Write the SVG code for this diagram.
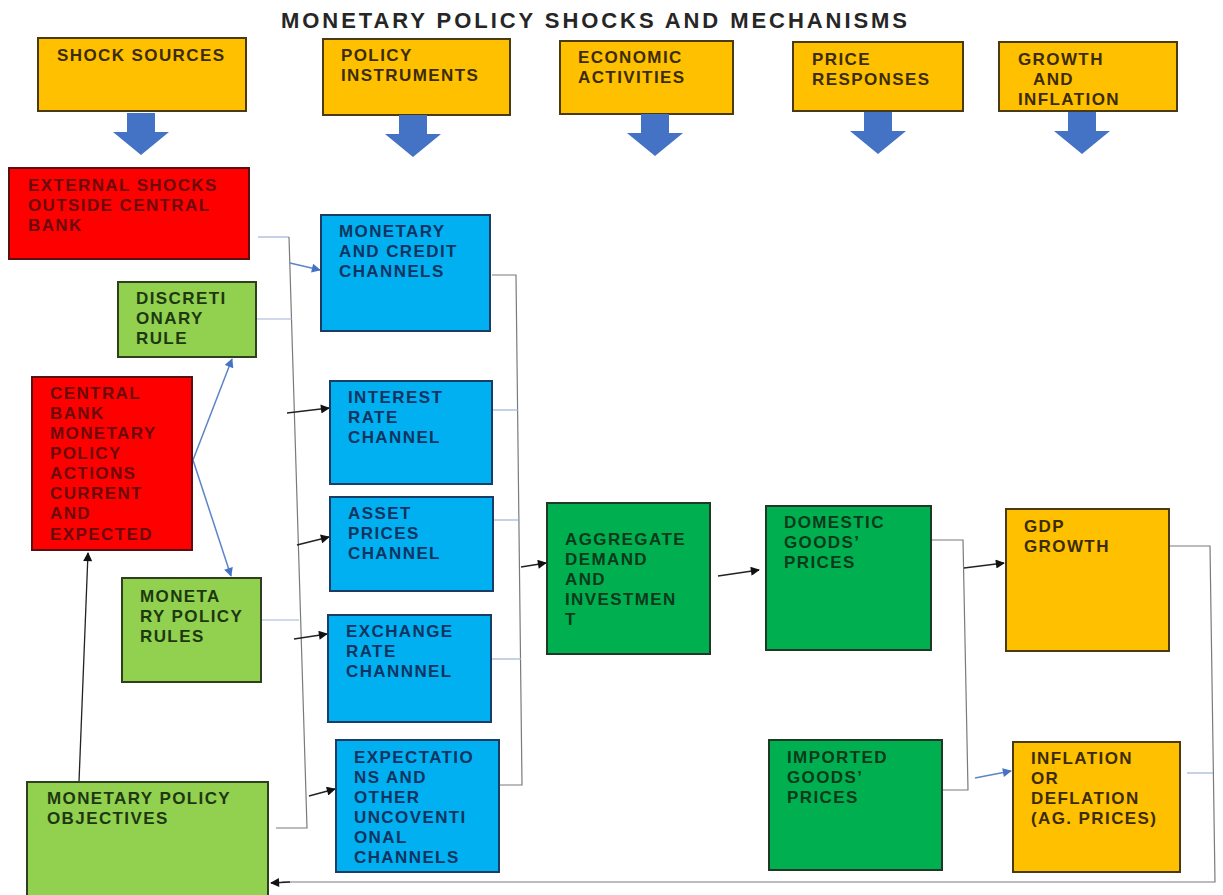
<svg xmlns="http://www.w3.org/2000/svg" width="1223" height="895" viewBox="0 0 1223 895">
<style>
.t{font-family:"Liberation Sans",Arial,sans-serif;font-weight:700;font-size:17px;letter-spacing:1.4px}
.hdr rect{fill:#FFC000;stroke:#4a3a10;stroke-width:2}
.hdr text{fill:#3b2c05}
.red rect{fill:#FF0000;stroke:#5a1010;stroke-width:2}
.red text{fill:#6b0a0a}
.lg rect{fill:#92D050;stroke:#2f3f1f;stroke-width:2}
.lg text{fill:#1d3810}
.bl rect{fill:#00B0F0;stroke:#1a3d66;stroke-width:2}
.bl text{fill:#0f3462}
.dg rect{fill:#00B050;stroke:#1f3a24;stroke-width:2}
.dg text{fill:#0c3a1b}
.or rect{fill:#FFC000;stroke:#4a3a10;stroke-width:2}
.or text{fill:#3b2c05}
.bus{stroke:#7a7a7a;stroke-width:1.2;fill:none}
.lb{stroke:#9fb3d6;stroke-width:1.2;fill:none}
.ka{stroke:#222;stroke-width:1.3;fill:none;marker-end:url(#mk)}
.ba{stroke:#5b84c8;stroke-width:1.5;fill:none;marker-end:url(#mb)}
.down{fill:#4472C4}
</style>
<defs>
<marker id="mk" viewBox="0 0 10 10" refX="9" refY="5" markerWidth="11" markerHeight="9" orient="auto" markerUnits="userSpaceOnUse"><path d="M0,0 L10,5 L0,10 z" fill="#111"/></marker>
<marker id="mb" viewBox="0 0 10 10" refX="9" refY="5" markerWidth="11" markerHeight="9" orient="auto" markerUnits="userSpaceOnUse"><path d="M0,0 L10,5 L0,10 z" fill="#4472C4"/></marker>
<path id="dn" d="M-14,0 H14 V19 H28 L0,42 L-28,19 H-14 Z"/>
</defs>
<rect width="1223" height="895" fill="#fff"/>
<text x="594" y="28" text-anchor="middle" font-family="'Liberation Sans',Arial,sans-serif" font-weight="700" font-size="22" fill="#262626" textLength="626" lengthAdjust="spacing">MONETARY POLICY SHOCKS AND MECHANISMS</text>

<g id="hdr-shock" class="hdr t"><rect x="38" y="38" width="208" height="73"/><text x="57" y="61">SHOCK SOURCES</text></g>
<g id="hdr-policy" class="hdr t"><rect x="323" y="39" width="187" height="76"/><text x="341" y="61">POLICY</text><text x="341" y="81">INSTRUMENTS</text></g>
<g id="hdr-econ" class="hdr t"><rect x="560" y="41" width="173" height="73"/><text x="578" y="63">ECONOMIC</text><text x="578" y="83">ACTIVITIES</text></g>
<g id="hdr-price" class="hdr t"><rect x="793" y="42" width="170" height="69"/><text x="812" y="65">PRICE</text><text x="812" y="85">RESPONSES</text></g>
<g id="hdr-growth" class="hdr t"><rect x="999" y="42" width="178" height="69"/><text x="1018" y="65">GROWTH</text><text x="1033" y="85">AND</text><text x="1018" y="105">INFLATION</text></g>

<g id="down-arrows" class="down">
<use href="#dn" x="141" y="113"/>
<use href="#dn" x="413" y="115"/>
<use href="#dn" x="655" y="114"/>
<use href="#dn" x="878" y="112"/>
<use href="#dn" x="1082" y="112"/>
</g>

<g id="connectors">
<path class="lb" d="M258,237 H289"/>
<path class="bus" d="M289,237 L307,828 H276"/>
<path class="lb" d="M256,319 H292"/>
<path class="lb" d="M248,620 H299"/>
<path class="ba" d="M290,263 L320,270"/>
<path class="ka" d="M287,413 L329,408"/>
<path class="ka" d="M297,545 L329,537"/>
<path class="ka" d="M294,639 L327,634"/>
<path class="ka" d="M309,796 L335,789"/>
<path class="bus" d="M492,275 H516 L522,785 H499"/>
<path class="lb" d="M493,410 H518"/>
<path class="lb" d="M494,520 H520"/>
<path class="lb" d="M492,659 H521"/>
<path class="ka" d="M521,567 L546,563"/>
<path class="ka" d="M718,576 L759,570"/>
<path class="bus" d="M932,540 H963 L968,790 H943"/>
<path class="ka" d="M964,568 L1004,563"/>
<path class="ba" d="M975,778 L1011,771"/>
<path class="bus" d="M1170,546 H1210 L1215,882 H282"/>
<path class="ka" d="M290,882 L271,883"/>
<path class="lb" d="M1187,773 H1213"/>
<path class="ka" d="M79,782 L88,553"/>
<path class="ba" d="M193,460 L232,359"/>
<path class="ba" d="M193,460 L231,576"/>
</g>

<g id="n-external" class="red t"><rect x="9" y="168" width="240" height="91"/><text x="28" y="191">EXTERNAL SHOCKS</text><text x="28" y="211">OUTSIDE CENTRAL</text><text x="28" y="231">BANK</text></g>
<g id="n-discretionary" class="lg t"><rect x="118" y="282" width="138" height="75"/><text x="136" y="304">DISCRETI</text><text x="136" y="324">ONARY</text><text x="136" y="344">RULE</text></g>
<g id="n-central" class="red t"><rect x="32" y="377" width="160" height="173"/><text x="50" y="399">CENTRAL</text><text x="50" y="419">BANK</text><text x="50" y="439">MONETARY</text><text x="50" y="459">POLICY</text><text x="50" y="479">ACTIONS</text><text x="50" y="499">CURRENT</text><text x="50" y="519">AND</text><text x="50" y="540">EXPECTED</text></g>
<g id="n-rules" class="lg t"><rect x="122" y="578" width="139" height="104"/><text x="140" y="602">MONETA</text><text x="140" y="622">RY POLICY</text><text x="140" y="642">RULES</text></g>
<g id="n-objectives" class="lg t"><rect x="27" y="782" width="241" height="120"/><text x="47" y="804">MONETARY POLICY</text><text x="47" y="824">OBJECTIVES</text></g>

<g id="n-credit" class="bl t"><rect x="321" y="215" width="169" height="116"/><text x="339" y="237">MONETARY</text><text x="339" y="257">AND CREDIT</text><text x="339" y="277">CHANNELS</text></g>
<g id="n-interest" class="bl t"><rect x="330" y="381" width="162" height="103"/><text x="348" y="403">INTEREST</text><text x="348" y="423">RATE</text><text x="348" y="443">CHANNEL</text></g>
<g id="n-asset" class="bl t"><rect x="330" y="497" width="163" height="94"/><text x="348" y="519">ASSET</text><text x="348" y="539">PRICES</text><text x="348" y="559">CHANNEL</text></g>
<g id="n-exchange" class="bl t"><rect x="328" y="615" width="163" height="107"/><text x="346" y="637">EXCHANGE</text><text x="346" y="657">RATE</text><text x="346" y="677">CHANNNEL</text></g>
<g id="n-expect" class="bl t"><rect x="336" y="740" width="163" height="132"/><text x="354" y="763">EXPECTATIO</text><text x="354" y="783">NS AND</text><text x="354" y="803">OTHER</text><text x="354" y="823">UNCOVENTI</text><text x="354" y="843">ONAL</text><text x="354" y="863">CHANNELS</text></g>

<g id="n-aggregate" class="dg t"><rect x="547" y="503" width="163" height="151"/><text x="565" y="545">AGGREGATE</text><text x="565" y="565">DEMAND</text><text x="565" y="585">AND</text><text x="565" y="605">INVESTMEN</text><text x="565" y="625">T</text></g>
<g id="n-domestic" class="dg t"><rect x="766" y="506" width="165" height="144"/><text x="784" y="528">DOMESTIC</text><text x="784" y="548">GOODS’</text><text x="784" y="568">PRICES</text></g>
<g id="n-imported" class="dg t"><rect x="769" y="740" width="173" height="130"/><text x="787" y="763">IMPORTED</text><text x="787" y="783">GOODS’</text><text x="787" y="803">PRICES</text></g>
<g id="n-gdp" class="or t"><rect x="1006" y="509" width="163" height="142"/><text x="1024" y="532">GDP</text><text x="1024" y="552">GROWTH</text></g>
<g id="n-inflation" class="or t"><rect x="1013" y="742" width="167" height="130"/><text x="1031" y="764">INFLATION</text><text x="1031" y="784">OR</text><text x="1031" y="804">DEFLATION</text><text x="1031" y="824">(AG. PRICES)</text></g>
</svg>
